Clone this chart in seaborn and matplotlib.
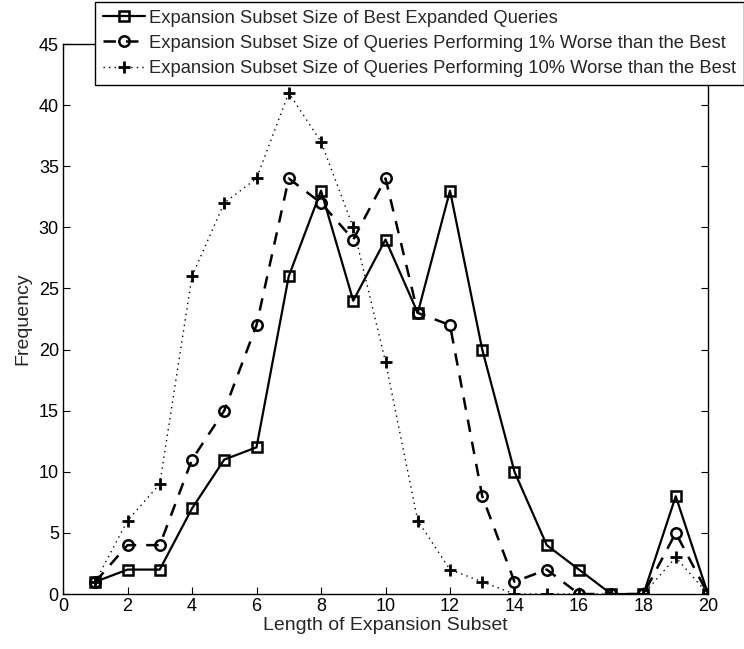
import matplotlib
matplotlib.use("Agg")
import matplotlib.pyplot as plt
import seaborn as sns
import pandas as pd

sns.set_style("white")
plt.rcParams['font.family'] = ['Liberation Sans', 'DejaVu Sans']

lengths = list(range(1, 21))
best = [1, 2, 2, 7, 11, 12, 26, 33, 24, 29, 23, 33, 20, 10, 4, 2, 0, 0, 8, 0]
worse1 = [1, 4, 4, 11, 15, 22, 34, 32, 29, 34, 23, 22, 8, 1, 2, 0, 0, 0, 5, 0]
worse10 = [1, 6, 9, 26, 32, 34, 41, 37, 30, 19, 6, 2, 1, 0, 0, 0, 0, 0, 3, 0]

labels = ["Expansion Subset Size of Best Expanded Queries",
          "Expansion Subset Size of Queries Performing 1% Worse than the Best",
          "Expansion Subset Size of Queries Performing 10% Worse than the Best"]

fig = plt.figure(figsize=(7.44, 6.49), dpi=100)
ax = fig.add_axes([0.0847, 0.0847, 0.8669, 0.8475])

styles = [
    dict(marker='s', linestyle='-', markersize=6.5, lw=1.6, mew=1.8),
    dict(marker='o', linestyle=(0, (5, 4)), markersize=7.5, lw=1.8, mew=1.8),
    dict(marker='+', linestyle=(0, (1, 3)), markersize=8, lw=1.0, mew=2.0),
]
series = [best, worse1, worse10]
for vals, lab, st in zip(series, labels, styles):
    df = pd.DataFrame({"x": lengths, "y": vals})
    sns.lineplot(data=df, x="x", y="y", ax=ax, color='black',
                 linewidth=st['lw'], linestyle=st['linestyle'],
                 marker=st['marker'], markersize=st['markersize'],
                 markerfacecolor='none', markeredgecolor='black',
                 markeredgewidth=st['mew'], label=lab)

ax.set_xlim(0, 20)
ax.set_ylim(0, 45)
ax.set_xticks(range(0, 21, 2))
ax.set_yticks(range(0, 46, 5))
ax.set_xlabel("Length of Expansion Subset", fontsize=14, labelpad=1)
ax.set_ylabel("Frequency", fontsize=14, labelpad=5)
ax.tick_params(direction='in', length=5, width=0.8, top=True, right=True,
               labelsize=13, color='black', labelcolor='black', pad=3,
               bottom=True, left=True)
for s in ax.spines.values():
    s.set_visible(True)
    s.set_color('black')
    s.set_linewidth(1.0)

leg = ax.legend(loc='upper right', bbox_to_anchor=(0.9995, 0.997),
                bbox_transform=fig.transFigure, fontsize=13.2, frameon=True,
                fancybox=False, edgecolor='black', framealpha=1,
                handlelength=2.3, handletextpad=0.2, borderpad=0.42,
                labelspacing=0.45, borderaxespad=0)
leg.get_frame().set_linewidth(1.0)

fig.savefig("out.png", dpi=100)
